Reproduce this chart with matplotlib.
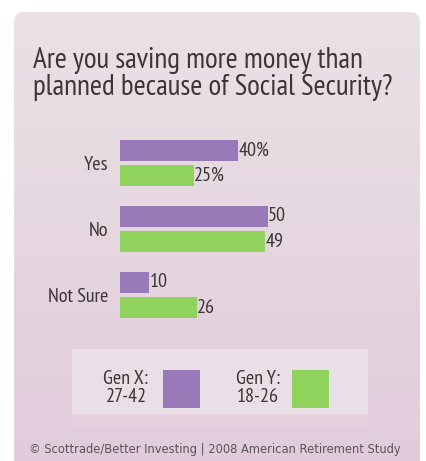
import matplotlib
matplotlib.use('Agg')
import matplotlib.pyplot as plt
import numpy as np
from matplotlib.patches import FancyBboxPatch, Rectangle

answers = ['Yes', 'No', 'Not Sure']
gen_x = [40, 50, 10]
gen_y = [25, 49, 26]
gen_x_labels = ['40%', '50', '10']
gen_y_labels = ['25%', '49', '26']
legend_names = ['Gen X:\n27-42', 'Gen Y:\n18-26']

title = 'Are you saving more money than\nplanned because of Social Security?'
source = '\u00a9 Scottrade/Better Investing | 2008 American Retirement Study'

purple = '#9a79b8'
green = '#8fd35c'
text_color = '#3b3536'
narrow = ['PT Sans Narrow', 'DejaVu Sans']

W, H = 427, 461
fig = plt.figure(figsize=(W / 100, H / 100), dpi=100)
fig.patch.set_facecolor('white')

# background layer in pixel coordinates (y pointing down)
bg = fig.add_axes([0, 0, 1, 1])
bg.set_xlim(0, W)
bg.set_ylim(H, 0)
bg.axis('off')

# card with soft vertical gradient
grad = np.linspace(0, 1, 200)[:, None]
top = np.array([0.915, 0.885, 0.897])
bot = np.array([0.882, 0.795, 0.858])
img = top + (bot - top) * grad[..., None]
card = FancyBboxPatch((14, 12), 406, 470, boxstyle='round,pad=0,rounding_size=10',
                      facecolor='none', edgecolor='none')
bg.add_patch(card)
im = bg.imshow(img, extent=[14, 420, 482, 12], aspect='auto', zorder=0)
im.set_clip_path(card)

# legend panel
bg.add_patch(Rectangle((72, 349), 296, 78, facecolor='#e9dfe6', edgecolor='none', zorder=1))
bg.add_patch(Rectangle((72, 414), 296, 13, facecolor='#e6cfdc', edgecolor='none', zorder=1))

bg.text(33, 74, title, fontsize=21, family=narrow, color=text_color,
        va='center', ha='left', linespacing=1.02)

# legend entries
for name, cx, sq, col in [(legend_names[0], 126, 163, purple),
                          (legend_names[1], 258, 292, green)]:
    bg.text(cx, 388, name, fontsize=14.5, family=narrow, color=text_color,
            ha='center', va='center', linespacing=1.0, zorder=2)
    bg.add_patch(Rectangle((sq, 370), 37, 38, facecolor=col, edgecolor='none', zorder=2))

bg.text(215, 449, source, fontsize=8.3, color='#5a5458', ha='center', va='center')

# bar chart
ax = fig.add_axes([120 / W, 1 - 328 / H, 295 / W, 198 / H])
ax.set_facecolor('none')
pos = np.arange(len(answers))
h = 0.31
off = 0.19
ax.barh(pos - off, gen_x, height=h, color=purple)
ax.barh(pos + off, gen_y, height=h, color=green)
for p, v, lab in zip(pos - off, gen_x, gen_x_labels):
    ax.text(v + 0.2, p, lab, fontsize=14.5, family=narrow, color=text_color,
            va='center', ha='left')
for p, v, lab in zip(pos + off, gen_y, gen_y_labels):
    ax.text(v + 0.2, p, lab, fontsize=14.5, family=narrow, color=text_color,
            va='center', ha='left')
ax.set_xlim(0, 100)
ax.set_ylim(2.5, -0.5)
ax.set_yticks(pos)
ax.set_yticklabels(answers, fontsize=14.5, family=narrow, color=text_color)
ax.tick_params(axis='y', length=0, pad=8.5)
ax.set_xticks([])
for s in ax.spines.values():
    s.set_visible(False)

fig.savefig('out.png', dpi=100, facecolor='white')
